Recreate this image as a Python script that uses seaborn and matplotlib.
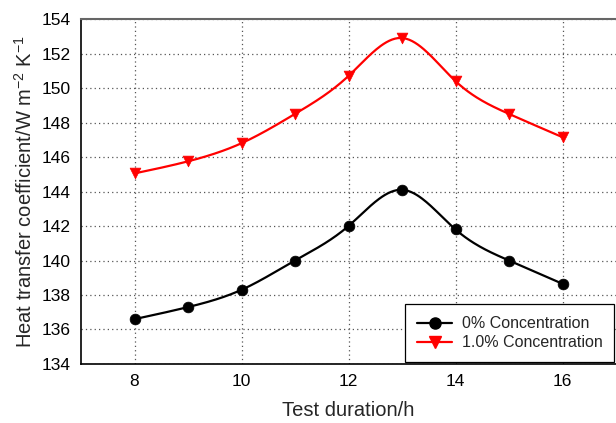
import numpy as np
import pandas as pd
import matplotlib
matplotlib.use('Agg')
import matplotlib.pyplot as plt
from matplotlib.lines import Line2D
import seaborn as sns

hours = [8, 9, 10, 11, 12, 13, 14, 15, 16]
htc_0 = [136.6, 137.3, 138.3, 140.0, 142.0, 144.1, 141.8, 140.0, 138.65]
htc_10 = [145.05, 145.75, 146.8, 148.5, 150.7, 152.9, 150.4, 148.5, 147.15]
labels = ['0% Concentration', '1.0% Concentration']


def natural_spline(x, y, n=300):
    # natural cubic spline through the points, only used to draw a smooth connecting line
    x = np.asarray(x, float)
    y = np.asarray(y, float)
    k = len(x)
    h = np.diff(x)
    A = np.zeros((k, k))
    b = np.zeros(k)
    A[0, 0] = A[-1, -1] = 1
    for i in range(1, k - 1):
        A[i, i - 1] = h[i - 1]
        A[i, i] = 2 * (h[i - 1] + h[i])
        A[i, i + 1] = h[i]
        b[i] = 3 * ((y[i + 1] - y[i]) / h[i] - (y[i] - y[i - 1]) / h[i - 1])
    c = np.linalg.solve(A, b)
    xs = np.linspace(x[0], x[-1], n)
    idx = np.clip(np.searchsorted(x, xs) - 1, 0, k - 2)
    dx = xs - x[idx]
    bb = (y[idx + 1] - y[idx]) / h[idx] - h[idx] * (2 * c[idx] + c[idx + 1]) / 3
    dd = (c[idx + 1] - c[idx]) / (3 * h[idx])
    ys = y[idx] + bb * dx + c[idx] * dx ** 2 + dd * dx ** 3
    return xs, ys


sns.set_style('white')
plt.rcParams['font.family'] = ['Liberation Sans', 'DejaVu Sans']
plt.rcParams['mathtext.fontset'] = 'custom'
plt.rcParams['mathtext.rm'] = 'Liberation Sans'
plt.rcParams['mathtext.it'] = 'Liberation Sans'

fig = plt.figure(figsize=(6.16, 4.23), dpi=100)
ax = fig.add_axes([0.1315, 0.1395, 0.8685, 0.8155])

df = pd.DataFrame({'hours': hours * 2,
                   'htc': htc_0 + htc_10,
                   'series': [labels[0]] * len(hours) + [labels[1]] * len(hours)})

colors = ['black', 'red']
marks = ['o', 'v']
for lab, col, mk in zip(labels, colors, marks):
    sub = df[df.series == lab]
    xs, ys = natural_spline(sub.hours, sub.htc)
    ax.plot(xs, ys, color=col, lw=1.6, zorder=2)
    sns.scatterplot(data=sub, x='hours', y='htc', color=col, marker=mk, s=60,
                    edgecolor=col, linewidth=0.5, ax=ax, zorder=3, legend=False)

ax.set_xlim(7, 17)
ax.set_ylim(134, 154)
ax.set_xticks([8, 10, 12, 14, 16])
ax.set_yticks(np.arange(134, 155, 2))
ax.grid(True, which='major', axis='both', linestyle=(0, (1, 2.5)), color='#555555', lw=0.9)
ax.tick_params(axis='both', which='major', direction='out', length=4, width=1,
               labelsize=12.5, colors='black')
for s in ['left', 'bottom']:
    ax.spines[s].set_color('black')
    ax.spines[s].set_linewidth(1.2)
ax.spines['top'].set_color('#666666')
ax.spines['top'].set_linewidth(1.5)
ax.spines['right'].set_visible(False)

ax.set_xlabel('Test duration/h', fontsize=14.5, labelpad=8)
ax.set_ylabel('Heat transfer coefficient/W m$^{-2}$ K$^{-1}$', fontsize=14.5, labelpad=4)

handles = [Line2D([], [], color=c, marker=m, lw=1.6, markersize=8) for c, m in zip(colors, marks)]
leg = ax.legend(handles, labels, loc='lower right', fontsize=11.5, frameon=True,
                fancybox=False, edgecolor='black', framealpha=1,
                borderaxespad=0.1, borderpad=0.75, handlelength=2.2,
                handletextpad=0.6, labelspacing=0.25)
leg.get_frame().set_linewidth(0.9)

fig.savefig('out.png', dpi=100)
